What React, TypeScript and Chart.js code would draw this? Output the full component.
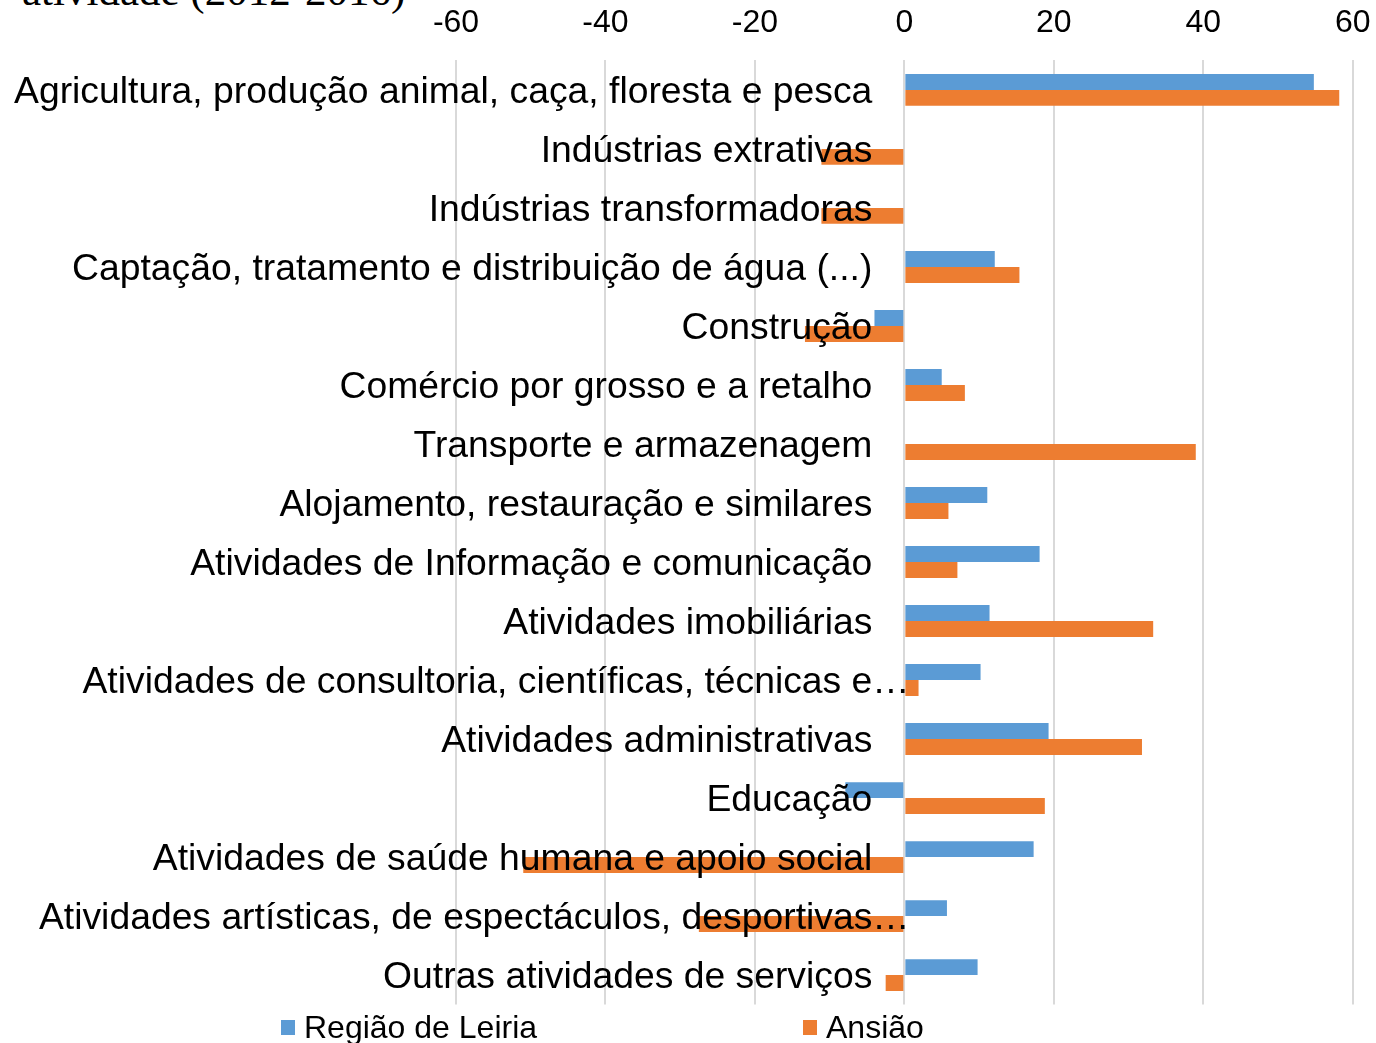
import React, { useEffect, useRef } from "react";
import { Chart, registerables } from "chart.js";

Chart.register(...registerables);

const categories: string[] = [
  "Agricultura, produção animal, caça, floresta e pesca",
  "Indústrias extrativas",
  "Indústrias transformadoras",
  "Captação, tratamento e distribuição de água (...)",
  "Construção",
  "Comércio por grosso e a retalho",
  "Transporte e armazenagem",
  "Alojamento, restauração e similares",
  "Atividades de Informação e comunicação",
  "Atividades imobiliárias",
  "Atividades de consultoria, científicas, técnicas e…",
  "Atividades administrativas",
  "Educação",
  "Atividades de saúde humana e apoio social",
  "Atividades artísticas, de espectáculos, desportivas…",
  "Outras atividades de serviços",
];

const regiaoLeiria: number[] = [54.8, 0, 0, 12.1, -4.0, 5.0, 0, 11.1, 18.1, 11.4, 10.2, 19.3, -7.9, 17.3, 5.7, 9.8];
const ansiao: number[] = [58.2, -11.1, -11.1, 15.4, -13.3, 8.1, 39.0, 5.9, 7.1, 33.3, 1.9, 31.8, 18.8, -51.0, -27.5, -2.5];

const seriesNames: string[] = ["Região de Leiria", "Ansião"];
const seriesColors: string[] = ["#5B9BD5", "#ED7D31"];

const xMin = -60;
const xMax = 60;
const xStep = 20;

const FONT = "'Liberation Sans', Arial, sans-serif";
const LABEL_SIZE = 37.3;
const LABEL_PAD = 32;
const LABEL_DY = 3;
const PLOT_LEFT = 456;
const PLOT_RIGHT = 1352;
const labelAxisValue = -LABEL_PAD / ((PLOT_RIGHT - PLOT_LEFT) / (xMax - xMin));

const ellipsisPlugin = {
  id: "ellipsisPlugin",
  afterDraw(chart: any) {
    const xs = chart.scales.x;
    const ys = chart.scales.y;
    const ctx = chart.ctx;
    ctx.save();
    ctx.font = `${LABEL_SIZE}px ${FONT}`;
    ctx.fillStyle = "#000";
    ctx.textAlign = "left";
    ctx.textBaseline = "middle";
    const x0 = xs.getPixelForValue(labelAxisValue);
    categories.forEach((c, i) => {
      if (c.endsWith("…")) {
        ctx.fillText("…", x0, ys.getPixelForValue(i) + LABEL_DY);
      }
    });
    ctx.restore();
  },
};

export default function App() {
  const ref = useRef<HTMLCanvasElement | null>(null);

  useEffect(() => {
    if (!ref.current) return;
    const chart = new Chart(ref.current, {
      type: "bar",
      data: {
        labels: categories,
        datasets: [
          { label: seriesNames[0], data: regiaoLeiria, backgroundColor: seriesColors[0], barPercentage: 1, categoryPercentage: 0.54 },
          { label: seriesNames[1], data: ansiao, backgroundColor: seriesColors[1], barPercentage: 1, categoryPercentage: 0.54 },
        ],
      },
      options: {
        indexAxis: "y",
        animation: false,
        responsive: false,
        maintainAspectRatio: false,
        layout: { padding: { left: PLOT_LEFT, right: 12, top: 0, bottom: 6 } },
        plugins: { legend: { display: false }, tooltip: { enabled: false } },
        scales: {
          x: {
            position: "top",
            min: xMin,
            max: xMax,
            ticks: { stepSize: xStep, color: "#000", font: { family: FONT, size: 32 }, padding: 18.5 },
            grid: { color: "#d9d9d9", lineWidth: 2, drawTicks: false },
            border: { display: false },
          },
          y: {
            position: { x: labelAxisValue } as any,
            grid: { display: false, drawTicks: false },
            border: { display: false },
            ticks: {
              z: 1,
              color: "#000",
              font: { family: FONT, size: LABEL_SIZE },
              padding: 0,
              labelOffset: LABEL_DY,
              autoSkip: false,
              callback: (_v: any, i: number) => categories[i].replace(/…$/, ""),
            },
          },
        },
      },
      plugins: [ellipsisPlugin],
    });
    return () => chart.destroy();
  }, []);

  return (
    <div style={{ position: "absolute", left: 0, top: 0, width: 1376, height: 1043, overflow: "hidden", background: "#fff" }}>
      <div
        style={{
          position: "absolute",
          left: 22,
          top: -31,
          fontFamily: "'Liberation Serif', 'Times New Roman', serif",
          fontSize: 43,
          lineHeight: "43px",
          color: "#000",
          whiteSpace: "nowrap",
        }}
      >
        atividade (2012-2016)
      </div>
      <canvas ref={ref} width={1389} height={1042} style={{ position: "absolute", left: 0, top: -15 }} />
      <div style={{ position: "absolute", left: 281, top: 1009, display: "flex", alignItems: "center", fontFamily: FONT, fontSize: 32, color: "#000", whiteSpace: "nowrap" }}>
        <span style={{ display: "inline-block", width: 14, height: 15, background: seriesColors[0], marginRight: 9 }} />
        <span>{seriesNames[0]}</span>
      </div>
      <div style={{ position: "absolute", left: 803, top: 1009, display: "flex", alignItems: "center", fontFamily: FONT, fontSize: 32, color: "#000", whiteSpace: "nowrap" }}>
        <span style={{ display: "inline-block", width: 14, height: 15, background: seriesColors[1], marginRight: 9 }} />
        <span>{seriesNames[1]}</span>
      </div>
    </div>
  );
}
